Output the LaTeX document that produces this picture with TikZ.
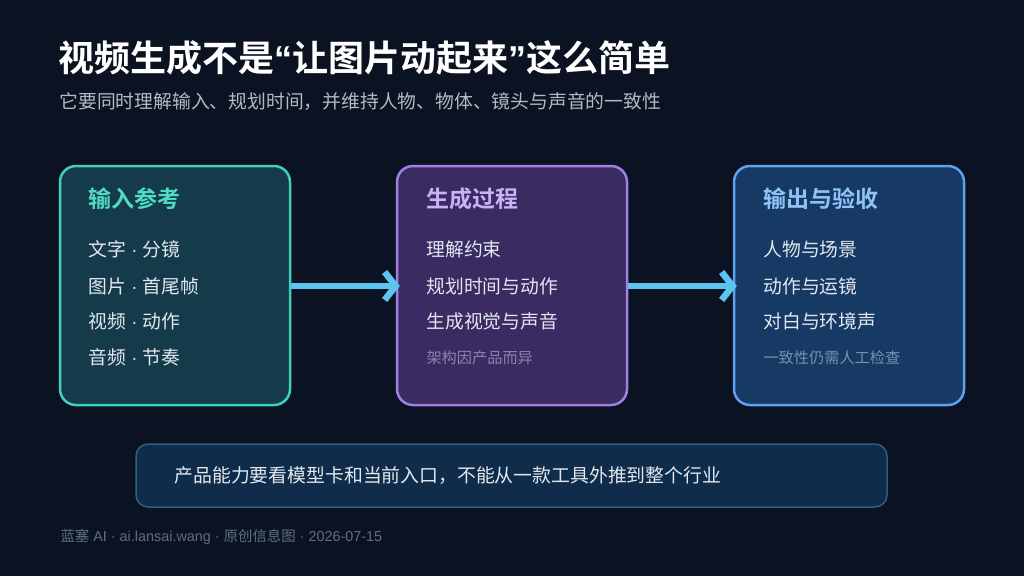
\documentclass[tikz,border=0pt]{standalone}
\usepackage{fontspec}
\setmainfont{Noto Sans CJK SC}[BoldFont={Noto Sans CJK SC Bold}]
\newfontfamily\lat{Liberation Sans}
\usetikzlibrary{arrows.meta}
\definecolor{bg}{HTML}{0B1322}
\definecolor{tfill}{HTML}{153A4A}
\definecolor{tline}{HTML}{3FD0BA}
\definecolor{ttitle}{HTML}{4FDCC4}
\definecolor{pfill}{HTML}{3A2B62}
\definecolor{pline}{HTML}{A080E4}
\definecolor{ptitle}{HTML}{C9B2F8}
\definecolor{pnote}{HTML}{8E82AC}
\definecolor{bfill}{HTML}{163A63}
\definecolor{bline}{HTML}{5CA2F0}
\definecolor{btitle}{HTML}{90C2F8}
\definecolor{bnote}{HTML}{7A90AC}
\definecolor{item}{HTML}{E2E8F0}
\definecolor{arrowc}{HTML}{5CC4F0}
\definecolor{nfill}{HTML}{0F2D4A}
\definecolor{nline}{HTML}{2E5E80}
\definecolor{sub}{HTML}{B2BAC6}
\definecolor{foot}{HTML}{5E6E86}
\newcommand{\mdot}{{\lat\ ·\ }}
\begin{document}
\begin{tikzpicture}[x=1pt,y=-1pt,
  card/.style={draw, line width=2.5pt, rounded corners=16pt, minimum width=230pt, minimum height=239pt, inner sep=0pt},
  ctitle/.style={anchor=west, font=\fontsize{23}{26}\selectfont\bfseries},
  citem/.style={anchor=west, text=item, font=\fontsize{18.8}{22}\selectfont},
  cnote/.style={anchor=west, font=\fontsize{15.2}{18}\selectfont},
  flow/.style={draw=arrowc, line width=6.5pt, -{Straight Barb[length=11pt,width=28pt,line width=6.5pt]}}
]
\fill[bg] (0,0) rectangle (1024,576);
\useasboundingbox (0,0) rectangle (1024,576);

\node[anchor=west, text=white, font=\fontsize{36}{41}\selectfont\bfseries] (title) at (55,58) {视频生成不是{\lat “}让图片动起来{\lat ”}这么简单};
\node[anchor=west, text=sub, font=\fontsize{18.8}{22}\selectfont] (subtitle) at (56,102) {它要同时理解输入、规划时间，并维持人物、物体、镜头与声音的一致性};

\node[card, draw=tline, fill=tfill] (c1) at (175,285.5) {};
\node[card, draw=pline, fill=pfill] (c2) at (512,285.5) {};
\node[card, draw=bline, fill=bfill] (c3) at (849,285.5) {};

\node[ctitle, text=ttitle] (c1t) at (85,199) {输入参考};
\node[citem] (c1a) at (85,249) {文字\mdot 分镜};
\node[citem] (c1b) at (85,286) {图片\mdot 首尾帧};
\node[citem] (c1c) at (85,321) {视频\mdot 动作};
\node[citem] (c1d) at (85,357) {音频\mdot 节奏};

\node[ctitle, text=ptitle] (c2t) at (423,199) {生成过程};
\node[citem] (c2a) at (423,249) {理解约束};
\node[citem] (c2b) at (423,286) {规划时间与动作};
\node[citem] (c2c) at (423,321) {生成视觉与声音};
\node[cnote, text=pnote] (c2d) at (423,358) {架构因产品而异};

\node[ctitle, text=btitle] (c3t) at (760,199) {输出与验收};
\node[citem] (c3a) at (760,249) {人物与场景};
\node[citem] (c3b) at (760,286) {动作与运镜};
\node[citem] (c3c) at (760,321) {对白与环境声};
\node[cnote, text=bnote] (c3d) at (760,358) {一致性仍需人工检查};

\draw[flow] (c1.east |- c1b) -- ([xshift=4pt]c2.west |- c2b);
\draw[flow] (c2.east |- c2b) -- ([xshift=4pt]c3.west |- c3b);

\node[draw=nline, fill=nfill, line width=1.5pt, rounded corners=12pt, minimum width=751pt, minimum height=63pt] (note) at (511.5,475.5) {};
\node[anchor=west, text=item, font=\fontsize{18.85}{23}\selectfont] (notet) at (171,476) {产品能力要看模型卡和当前入口，不能从一款工具外推到整个行业};

\node[anchor=west, text=foot, font=\fontsize{14.4}{17}\selectfont] (footer) at (57,537) {蓝塞{\lat\ AI · ai.lansai.wang · }原创信息图{\lat\ · 2026-07-15}};
\end{tikzpicture}
\end{document}
